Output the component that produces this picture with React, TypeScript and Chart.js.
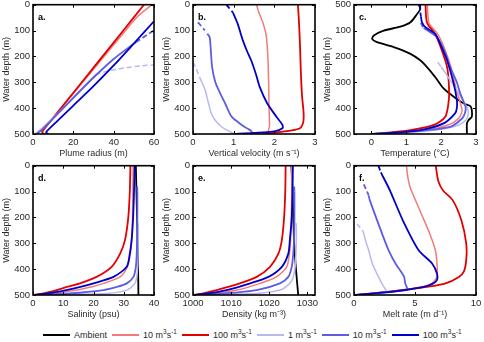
import React, { useEffect, useRef } from 'react';
import { Chart, registerables } from 'chart.js';
Chart.register(...registerables);

// ---------- data: [value, depth] ----------
const DEPTH_TICKS = [0, 100, 200, 300, 400, 500];
const DEPTH_LABELS = ['0', '100', '200', '300', '400', '500'];
const DEPTH_LABELS_C = ['500', '100', '200', '300', '400', '500'];

// a. plume radius (m)
const radiusRed10 = [[1.5, 500], [2.5, 494], [4, 486], [14, 400], [24, 306], [34, 212], [44, 118], [52, 45], [59, 0]];
const radiusRed100 = [[5.5, 500], [4.6, 494], [5, 486], [15, 389], [25, 292], [35, 195], [45, 98], [55, 0]];
const radiusBlue1 = [[1, 500], [1.8, 494], [3, 488], [15, 400], [28, 295], [31, 270]];
const radiusBlue1Dash = [[31, 270], [38, 255], [46, 244], [54, 236], [60, 233]];
const radiusBlue10 = [[2.5, 500], [2.6, 494], [4, 487], [15, 400], [28, 297], [40, 210], [51, 145]];
const radiusBlue10Dash = [[51, 145], [54, 130], [57, 114], [60, 100]];
const radiusBlue100 = [[7.5, 500], [6.6, 495], [7, 488], [12, 450], [20, 390], [30, 315], [40, 235], [50, 150], [60, 64]];

// b. vertical velocity (m/s)
const velRed10 = [[1.7, 500], [1.77, 497], [1.85, 488], [1.88, 470], [1.88, 450], [1.87, 400], [1.86, 300], [1.84, 200], [1.8, 120], [1.72, 70], [1.62, 30], [1.56, 0]];
const velRed100 = [[1.8, 500], [2.06, 494], [2.39, 487], [2.63, 478], [2.71, 455], [2.72, 420], [2.68, 350], [2.65, 250], [2.63, 150], [2.6, 50], [2.58, 0]];
const velBlue1Dash = [[0.0, 222], [0.08, 248], [0.16, 280]];
const velBlue1 = [[0.16, 280], [0.22, 300], [0.3, 331], [0.38, 380], [0.45, 420], [0.54, 446], [0.7, 472], [0.91, 491], [1.03, 500]];
const velBlue10Dash = [[0.12, 68], [0.2, 82], [0.29, 100]];
const velBlue10 = [[0.35, 112], [0.41, 126], [0.44, 180], [0.47, 241], [0.55, 300], [0.66, 340], [0.8, 385], [0.95, 433], [1.2, 465], [1.35, 480], [1.44, 490], [1.44, 500]];
const velBlue100Dash = [[0.82, 0], [0.9, 15], [0.98, 30]];
const velBlue100 = [[0.98, 30], [1.1, 74], [1.17, 110], [1.23, 140], [1.33, 180], [1.43, 215], [1.55, 270], [1.64, 318], [1.82, 380], [2.05, 433], [2.2, 465], [2.2, 478], [2.0, 490], [1.5, 496], [1.0, 500]];

// c. temperature (°C)
const tempAmbient = [[1.36, 0], [1.4, 17], [1.31, 36], [1.12, 68], [0.83, 85], [0.35, 100], [0.07, 119], [0.02, 132], [0.16, 145], [0.64, 164], [1.12, 190], [1.4, 215], [1.55, 235], [1.83, 280], [2.07, 324], [2.36, 356], [2.65, 382], [2.84, 392], [2.88, 408], [2.88, 433], [2.79, 446], [2.74, 459], [2.74, 500]];
const tempRed10 = [[1.6, 0], [1.62, 40], [1.66, 74], [1.9, 113], [2.1, 170], [2.28, 241], [2.42, 320], [2.55, 380], [2.6, 410], [2.5, 440], [2.2, 465], [1.5, 485], [0.7, 495], [0, 500]];
const tempRed100 = [[1.55, 0], [1.58, 62], [1.64, 81], [1.83, 113], [2.02, 177], [2.17, 241], [2.22, 305], [2.22, 369], [2.12, 433], [1.79, 465], [1.12, 485], [0.45, 495], [0, 500]];
const tempBlue1Dash = [[1.9, 222], [2.0, 240]];
const tempBlue1 = [[2.0, 240], [2.2, 280], [2.45, 330], [2.62, 370], [2.75, 400], [2.78, 420], [2.72, 445], [2.5, 465], [2.0, 482], [1.2, 493], [0, 500]];
const tempBlue10Dash = [[1.42, 70], [1.45, 80], [1.5, 90]];
const tempBlue10 = [[1.5, 90], [1.88, 126], [2.1, 180], [2.26, 241], [2.45, 300], [2.55, 344], [2.7, 395], [2.68, 420], [2.6, 440], [2.26, 472], [1.12, 491], [0, 500]];
const tempBlue100Dash = [[1.4, 0], [1.4, 25], [1.42, 45]];
const tempBlue100 = [[1.42, 45], [1.45, 68], [1.55, 87], [1.83, 113], [2.0, 160], [2.17, 215], [2.36, 305], [2.45, 369], [2.45, 400], [2.4, 420], [2.07, 459], [1.4, 485], [0.64, 495], [0, 500]];

// d. salinity (psu)
const salAmbient = [[34.0, 0], [34.2, 100], [34.4, 200], [34.6, 300], [34.75, 400], [34.85, 500]];
const salRed10 = [[0, 500], [6, 494], [14.4, 481], [19.5, 468], [23.3, 455], [28.8, 430], [31.2, 391], [32.2, 340], [32.6, 288], [32.9, 200], [33.0, 100], [33.1, 0]];
const salRed100 = [[0, 500], [3.4, 494], [7.8, 481], [11.5, 468], [15.5, 455], [21, 430], [26, 391], [28.8, 340], [30.4, 288], [31.5, 200], [32, 100], [32.2, 0]];
const salBlue1 = [[0, 500], [12, 497], [24.4, 494], [31, 481], [33.7, 455], [34.3, 430], [34.6, 391], [34.7, 340], [34.75, 288], [34.75, 230]];
const salBlue1Dash = [[34.75, 230], [34.7, 222]];
const salBlue10 = [[0, 500], [12, 494], [23.3, 481], [28, 468], [31, 455], [33.2, 430], [34, 391], [34.3, 340], [34.4, 288], [34.5, 200], [34.5, 100]];
const salBlue10Dash = [[34.5, 100], [34.4, 70]];
const salBlue100 = [[0, 500], [5, 494], [11, 481], [16, 468], [20, 455], [26.6, 430], [31, 391], [32, 340], [32.6, 288], [33.1, 200], [33.4, 100], [33.6, 0]];

// e. density (kg/m3)
const denAmbient = [[1025.8, 0], [1026.1, 100], [1026.3, 200], [1026.5, 288], [1026.9, 380], [1027.3, 450], [1027.6, 500]];
const denRed10 = [[1000, 500], [1005, 494], [1011.5, 481], [1017.6, 455], [1021.9, 430], [1024.6, 391], [1025.3, 340], [1025.6, 288], [1025.8, 200], [1025.9, 100], [1025.9, 0]];
const denRed100 = [[1000, 500], [1002.7, 494], [1006.2, 481], [1009.5, 468], [1012.3, 455], [1016.7, 430], [1020.2, 391], [1022.4, 340], [1023.3, 288], [1023.9, 200], [1024.2, 100], [1024.3, 0]];
const denBlue1 = [[1000, 500], [1008, 497], [1016.7, 494], [1022.8, 481], [1025.4, 455], [1026.3, 430], [1026.8, 391], [1027.0, 340], [1027.1, 288], [1027.1, 230]];
const denBlue1Dash = [[1027.1, 230], [1027.0, 222]];
const denBlue10 = [[1000, 500], [1008, 494], [1016.7, 481], [1022.8, 455], [1025, 430], [1025.9, 391], [1026.3, 340], [1026.5, 288], [1026.6, 200], [1026.6, 100]];
const denBlue10Dash = [[1026.6, 100], [1026.5, 70]];
const denBlue100 = [[1000, 500], [1004, 494], [1008.8, 481], [1015, 455], [1019.8, 430], [1023.3, 391], [1025, 340], [1025.4, 288], [1025.9, 200], [1026.1, 100], [1026.2, 0]];

// f. melt rate (m/d)
const meltRed10 = [[4.3, 0], [4.4, 40], [4.6, 83], [5.4, 173], [6.2, 262], [6.67, 327], [6.8, 378], [6.8, 429], [6.4, 455], [5.6, 468], [3.9, 481], [1.8, 492], [0, 500]];
const meltRed100 = [[6.7, 0], [6.9, 58], [7.3, 96], [8.1, 134], [8.8, 211], [9.2, 301], [9.2, 364], [9.0, 410], [8.6, 430], [7.5, 455], [6.1, 468], [3.9, 481], [1.5, 494], [0, 500]];
const meltBlue1Dash = [[0.25, 225], [0.5, 240], [0.77, 256]];
const meltBlue1 = [[0.77, 256], [0.95, 290], [1.2, 327], [1.5, 378], [2.0, 429], [2.43, 468], [2.7, 487], [2.5, 490], [0, 500]];
const meltBlue10Dash = [[0.8, 72], [1.0, 92], [1.2, 115]];
const meltBlue10 = [[1.2, 115], [1.3, 134], [2.4, 275], [2.84, 327], [3.4, 378], [4.1, 429], [4.2, 455], [4.35, 474], [4.2, 481], [2.3, 491], [0, 500]];
const meltBlue100Dash = [[2.0, 0], [2.1, 13], [2.2, 26]];
const meltBlue100 = [[2.2, 26], [2.95, 96], [4.0, 211], [5.3, 327], [6.4, 378], [6.8, 417], [6.8, 442], [6.5, 455], [5.8, 468], [4.2, 481], [2.3, 491], [0, 500]];

// ---------- styles ----------
const C = {
  ambient: '#000000',
  red10: '#f27a7a',
  red100: '#e30000',
  blue1: '#b8b8f2',
  blue10: '#5c5ce4',
  blue100: '#0000c8',
};
const FONT = '"Liberation Sans", Arial, Helvetica, sans-serif';
const TEXT = '#2a2a2a';
const LW = 1.8;
const LW_LIGHT = 1.5;

type S = { pts: number[][]; color: string; width: number; dash?: boolean };
const s = (pts: number[][], color: string, width = LW, dash = false): S => ({ pts, color, width, dash });

const PLOT_LEFT = [33, 193, 354];
const PLOT_W = [121, 122, 122];
const PLOT_TOP = [4, 165];
const PLOT_H = 130;

const PANELS = [
  {
    key: 'a', col: 0, row: 0, xMin: 0, xMax: 60, xTicks: [0, 20, 40, 60], xTitle: 'Plume radius (m)', yLabels: DEPTH_LABELS,
    series: [s(radiusRed10, C.red10, LW_LIGHT), s(radiusRed100, C.red100), s(radiusBlue1, C.blue1, LW_LIGHT), s(radiusBlue1Dash, C.blue1, LW_LIGHT, true),
      s(radiusBlue10, C.blue10), s(radiusBlue10Dash, C.blue10, LW, true), s(radiusBlue100, C.blue100)],
  },
  {
    key: 'b', col: 1, row: 0, xMin: 0, xMax: 3, xTicks: [0, 1, 2, 3], xTitle: 'Vertical velocity (m s⁻¹)', yLabels: DEPTH_LABELS,
    series: [s(velRed10, C.red10, LW_LIGHT), s(velRed100, C.red100), s(velBlue1, C.blue1, LW_LIGHT), s(velBlue1Dash, C.blue1, LW_LIGHT, true),
      s(velBlue10, C.blue10), s(velBlue10Dash, C.blue10, LW, true), s(velBlue100, C.blue100), s(velBlue100Dash, C.blue100, LW, true)],
  },
  {
    key: 'c', col: 2, row: 0, xMin: -0.5, xMax: 3, xTicks: [0, 1, 2, 3], xTitle: 'Temperature (°C)', yLabels: DEPTH_LABELS_C,
    series: [s(tempAmbient, C.ambient), s(tempRed10, C.red10, LW_LIGHT), s(tempRed100, C.red100), s(tempBlue1, C.blue1, LW_LIGHT), s(tempBlue1Dash, C.blue1, LW_LIGHT, true),
      s(tempBlue10, C.blue10), s(tempBlue10Dash, C.blue10, LW, true), s(tempBlue100, C.blue100), s(tempBlue100Dash, C.blue100, LW, true)],
  },
  {
    key: 'd', col: 0, row: 1, xMin: 0, xMax: 40, xTicks: [0, 10, 20, 30, 40], xTitle: 'Salinity (psu)', yLabels: DEPTH_LABELS,
    series: [s(salAmbient, C.ambient), s(salRed10, C.red10, LW_LIGHT), s(salRed100, C.red100), s(salBlue1, C.blue1, LW_LIGHT), s(salBlue1Dash, C.blue1, LW_LIGHT, true),
      s(salBlue10, C.blue10), s(salBlue10Dash, C.blue10, LW, true), s(salBlue100, C.blue100)],
  },
  {
    key: 'e', col: 1, row: 1, xMin: 1000, xMax: 1032, xTicks: [1000, 1010, 1020, 1030], xTitle: 'Density (kg m⁻³)', yLabels: DEPTH_LABELS,
    series: [s(denAmbient, C.ambient), s(denRed10, C.red10, LW_LIGHT), s(denRed100, C.red100), s(denBlue1, C.blue1, LW_LIGHT), s(denBlue1Dash, C.blue1, LW_LIGHT, true),
      s(denBlue10, C.blue10), s(denBlue10Dash, C.blue10, LW, true), s(denBlue100, C.blue100)],
  },
  {
    key: 'f', col: 2, row: 1, xMin: 0, xMax: 10, xTicks: [0, 5, 10], xTitle: 'Melt rate (m d⁻¹)', yLabels: DEPTH_LABELS,
    series: [s(meltRed10, C.red10, LW_LIGHT), s(meltRed100, C.red100), s(meltBlue1, C.blue1, LW_LIGHT), s(meltBlue1Dash, C.blue1, LW_LIGHT, true),
      s(meltBlue10, C.blue10), s(meltBlue10Dash, C.blue10, LW, true), s(meltBlue100, C.blue100), s(meltBlue100Dash, C.blue100, LW, true)],
  },
];

const LEGEND = [
  { label: 'Ambient', color: C.ambient, flux: '' },
  { label: '', color: C.red10, flux: '10' },
  { label: '', color: C.red100, flux: '100' },
  { label: '', color: C.blue1, flux: '1' },
  { label: '', color: C.blue10, flux: '10' },
  { label: '', color: C.blue100, flux: '100' },
];

// margins of canvas around plot area
const M_LEFT = 33, M_TOP = 8, M_RIGHT = 12, M_BOTTOM = 30;

const framePlugin = {
  id: 'frame',
  afterDatasetsDraw(chart: any, _a: any, opts: any) {
    const { ctx, chartArea } = chart;
    const { left, top, right, bottom } = chartArea;
    const xs = chart.scales.x, ys = chart.scales.y;
    ctx.save();
    ctx.strokeStyle = '#000';
    ctx.lineWidth = 1;
    ctx.beginPath();
    xs.ticks.forEach((t: any) => {
      const p = Math.round(xs.getPixelForValue(t.value)) + 0.5;
      ctx.moveTo(p, bottom); ctx.lineTo(p, bottom - 3);
      ctx.moveTo(p, top); ctx.lineTo(p, top + 3);
    });
    ys.ticks.forEach((t: any) => {
      const p = Math.round(ys.getPixelForValue(t.value)) + 0.5;
      ctx.moveTo(left, p); ctx.lineTo(left + 3, p);
      ctx.moveTo(right, p); ctx.lineTo(right - 3, p);
    });
    ctx.stroke();
    ctx.lineWidth = 1.6;
    ctx.strokeRect(left, top, right - left, bottom - top);
    ctx.fillStyle = '#000';
    ctx.font = `bold 9px ${FONT}`;
    ctx.textBaseline = 'middle';
    ctx.textAlign = 'left';
    ctx.fillText(opts.label, left + 5, top + 13);
    ctx.restore();
  },
};

function Panel({ p }: { p: any }) {
  const ref = useRef<HTMLCanvasElement>(null);
  const w = M_LEFT + PLOT_W[p.col] + M_RIGHT;
  const h = M_TOP + PLOT_H + M_BOTTOM;
  const left = PLOT_LEFT[p.col] - M_LEFT;
  const top = PLOT_TOP[p.row] - M_TOP;
  useEffect(() => {
    const datasets = p.series.slice().reverse().map((sr: S) => ({
      data: sr.pts.map(([x, y]) => ({ x, y })),
      showLine: true,
      borderColor: sr.color,
      backgroundColor: sr.color,
      borderWidth: sr.width,
      borderDash: sr.dash ? [5, 3] : [],
      pointRadius: 0,
      fill: false,
      tension: 0.25,
    }));
    const chart = new Chart(ref.current as HTMLCanvasElement, {
      type: 'scatter',
      data: { datasets },
      plugins: [framePlugin as any],
      options: {
        animation: false,
        responsive: false,
        events: [],
        layout: { padding: { top: M_TOP, right: M_RIGHT, left: 0, bottom: 0 } },
        plugins: { legend: { display: false }, tooltip: { enabled: false }, frame: { label: p.key + '.' } } as any,
        scales: {
          x: {
            type: 'linear', position: 'bottom', min: p.xMin, max: p.xMax,
            afterBuildTicks: (sc: any) => { sc.ticks = p.xTicks.map((v: number) => ({ value: v })); },
            afterFit: (sc: any) => { sc.height = M_BOTTOM; },
            grid: { display: false, drawTicks: false },
            border: { display: false },
            ticks: { font: { family: FONT, size: 9.5 }, color: TEXT, padding: 3, maxRotation: 0, autoSkip: false, callback: (v: any) => String(v) },
            title: { display: true, text: p.xTitle, font: { family: FONT, size: 9 }, color: TEXT, padding: { top: 0, bottom: 5 } },
          },
          y: {
            type: 'linear', position: 'left', reverse: true, min: 0, max: 500,
            afterBuildTicks: (sc: any) => { sc.ticks = DEPTH_TICKS.map((v) => ({ value: v })); },
            afterFit: (sc: any) => { sc.width = M_LEFT; },
            grid: { display: false, drawTicks: false },
            border: { display: false },
            ticks: { font: { family: FONT, size: 9.5 }, color: TEXT, padding: 3, autoSkip: false, callback: (_v: any, i: number) => p.yLabels[i] },
            title: { display: true, text: 'Water depth (m)', font: { family: FONT, size: 9 }, color: TEXT, padding: { top: 1, bottom: 0 } },
          },
        },
      } as any,
    });
    return () => chart.destroy();
  }, []);
  return (
    <div style={{ position: 'absolute', left, top, width: w, height: h }}>
      <canvas ref={ref} width={w} height={h} style={{ width: w, height: h, display: 'block' }} />
    </div>
  );
}

function Legend() {
  return (
    <div style={{ position: 'absolute', left: 43, top: 329, height: 12, display: 'flex', alignItems: 'center', fontFamily: FONT, fontSize: 9, color: TEXT, whiteSpace: 'nowrap' }}>
      {LEGEND.map((it, i) => (
        <div key={i} style={{ display: 'flex', alignItems: 'center', marginRight: 5 }}>
          <div style={{ width: 27, height: 2, background: it.color, marginRight: 4 }} />
          {it.flux ? (
            <span>{it.flux} m<sup style={{ fontSize: 6.5, lineHeight: 0 }}>3</sup>s<sup style={{ fontSize: 6.5, lineHeight: 0 }}>-1</sup></span>
          ) : (
            <span>{it.label}</span>
          )}
        </div>
      ))}
    </div>
  );
}

export default function App() {
  return (
    <div style={{ position: 'fixed', left: 0, top: 0, width: 484, height: 342, overflow: 'hidden', background: '#fff' }}>
      {PANELS.map((p) => <Panel key={p.key} p={p} />)}
      <Legend />
    </div>
  );
}
